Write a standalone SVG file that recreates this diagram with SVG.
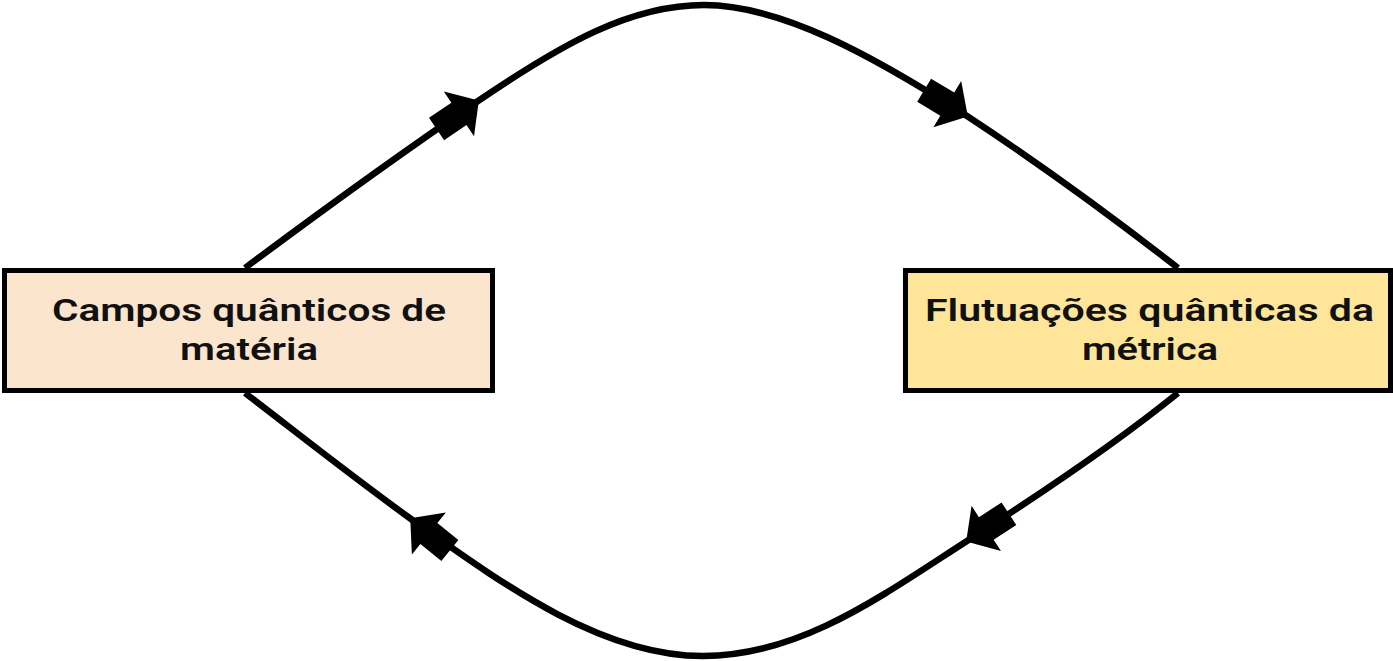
<svg xmlns="http://www.w3.org/2000/svg" width="1393" height="661" viewBox="0 0 1393 661">
  <style>
    .edge { fill: none; stroke: #000; stroke-width: 6.5; stroke-linecap: butt; }
    .box { stroke: #000; stroke-width: 5; }
    .lbl { font-family: Roboto, "Noto Sans", sans-serif; font-weight: 600; font-size: 32px; fill: #111; text-anchor: middle; }
  </style>
  <defs>
    <polygon id="arr" points="1,0 -23,-27 -23,-13.5 -50,-13.5 -50,13.5 -23,13.5 -23,27" fill="#000"/>
  </defs>
  <rect width="1393" height="661" fill="#fff"/>
  <g id="connectors">
    <path class="edge" d="M245,268 C320,212 400,154 478,101 C562,44 630,5 704,5 C780,5 870,54 967,116 C1040,164 1110,215 1178,268"/>
    <path class="edge" d="M245,393 C300,435 350,475 411,519 C500,582 600,656 703,656 C800,656 880,597 967,541 C1050,488 1120,440 1178,393"/>
    <use href="#arr" transform="translate(478,101) rotate(-34)"/>
    <use href="#arr" transform="translate(967,116) rotate(31)"/>
    <use href="#arr" transform="translate(411,519) rotate(219)"/>
    <use href="#arr" transform="translate(967,541) rotate(147)"/>
  </g>
  <g id="node-materia">
    <rect class="box" x="4.5" y="270.5" width="488" height="120" fill="#fce5cd"/>
    <text class="lbl"><tspan x="249" y="321" textLength="394" lengthAdjust="spacingAndGlyphs">Campos quânticos de</tspan><tspan x="249" y="360" textLength="138" lengthAdjust="spacingAndGlyphs">matéria</tspan></text>
  </g>
  <g id="node-metrica">
    <rect class="box" x="905.5" y="270.5" width="485" height="120" fill="#ffe599"/>
    <text class="lbl"><tspan x="1149.5" y="321" textLength="449" lengthAdjust="spacingAndGlyphs">Flutuações quânticas da</tspan><tspan x="1150" y="360" textLength="136" lengthAdjust="spacingAndGlyphs">métrica</tspan></text>
  </g>
</svg>
